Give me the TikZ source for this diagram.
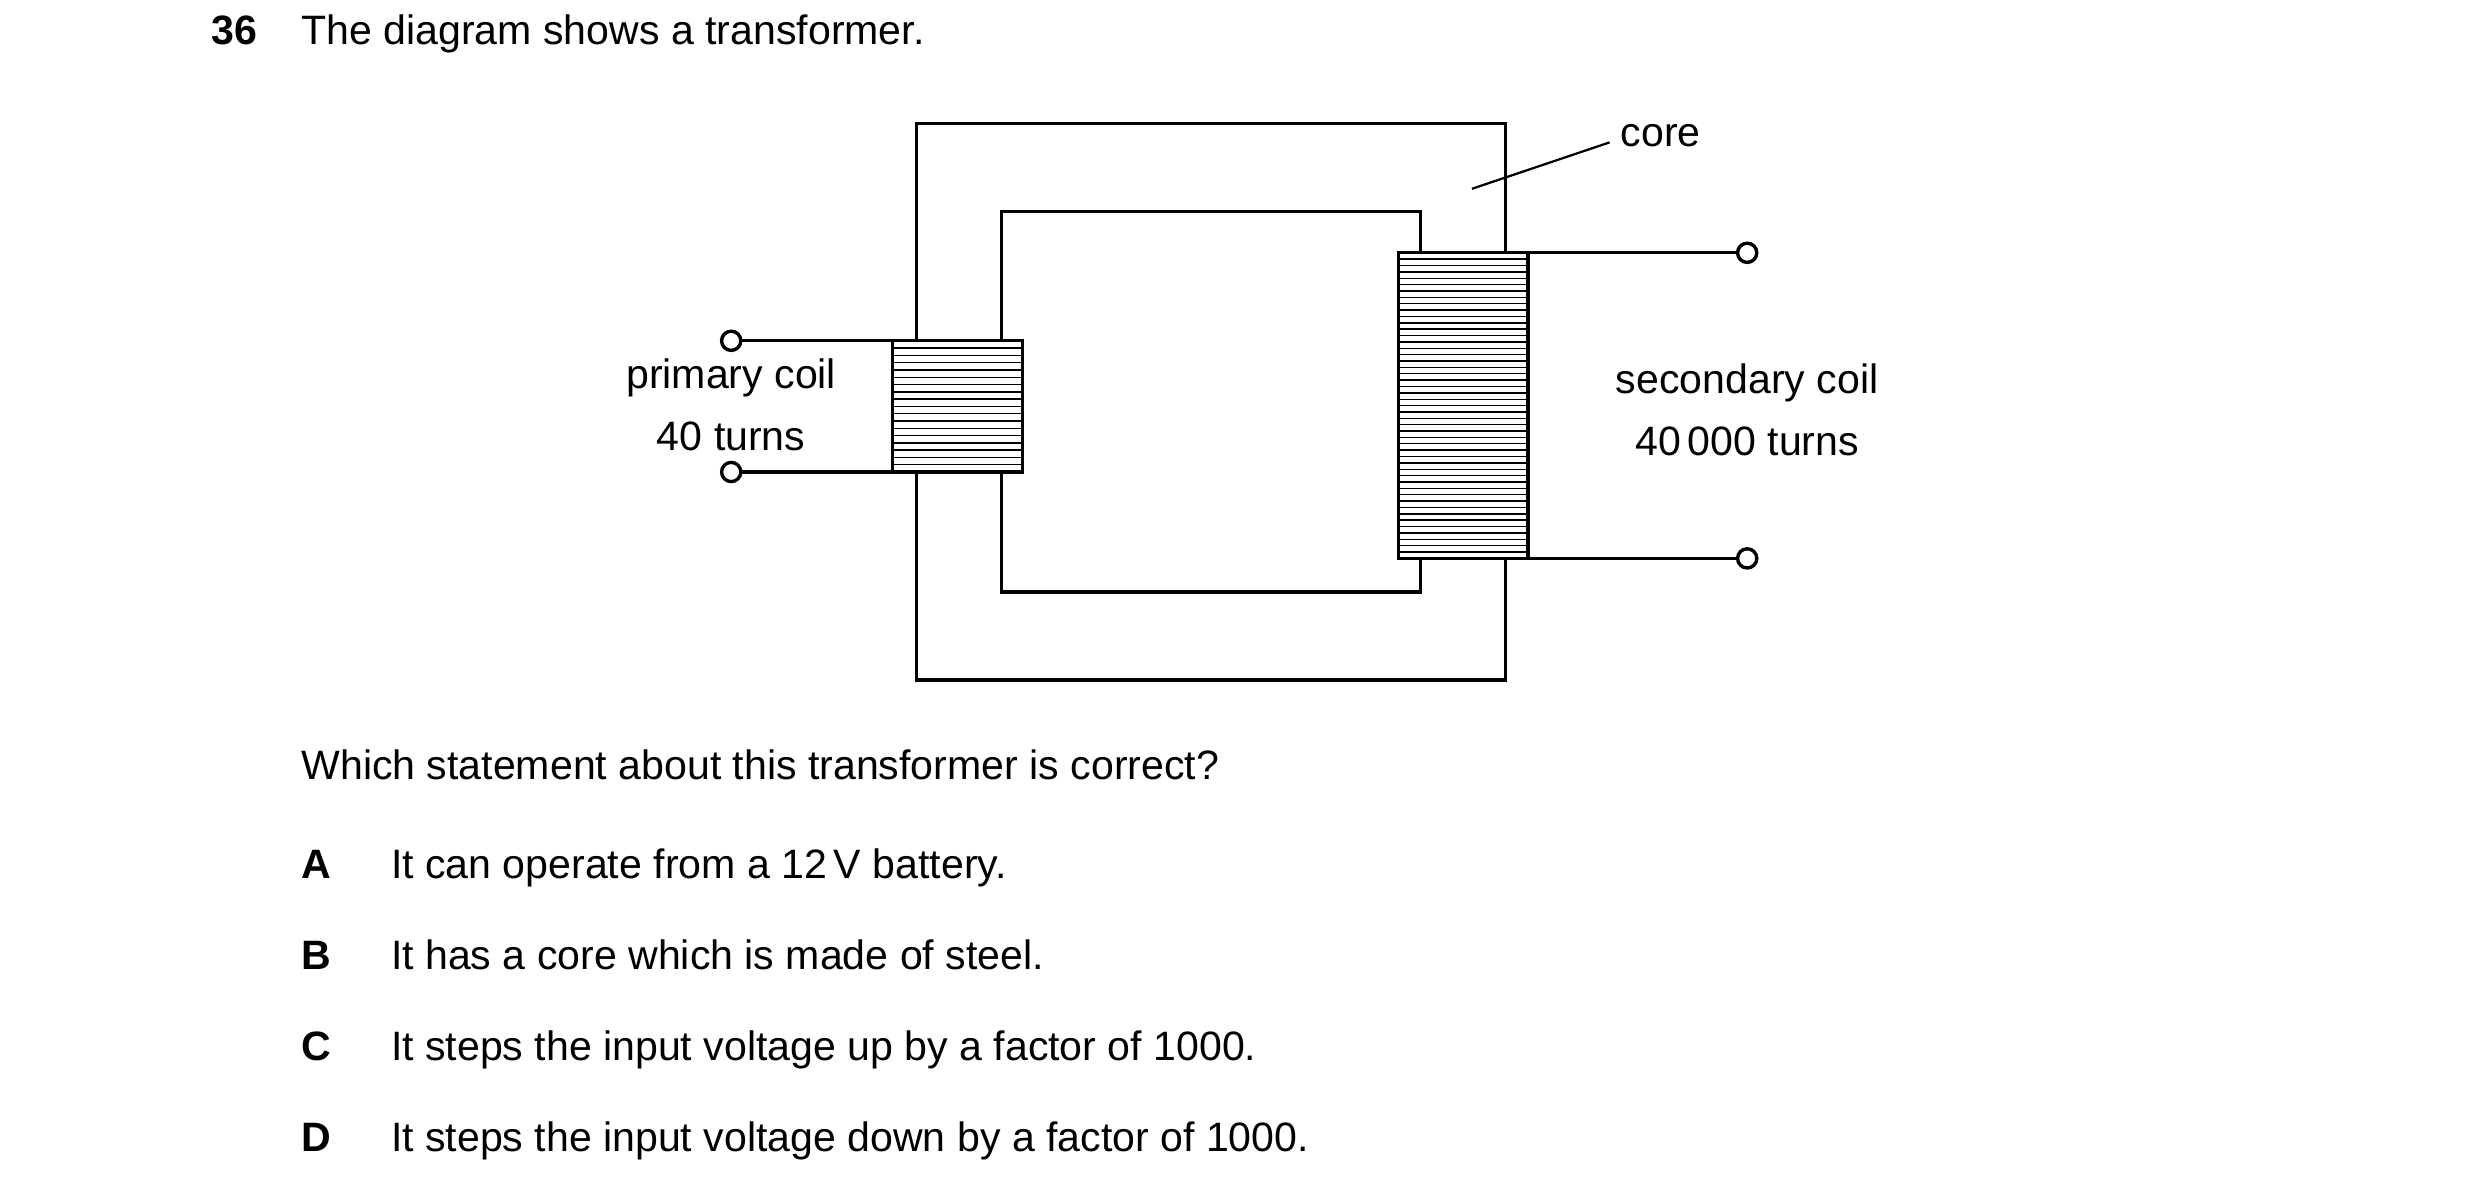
\documentclass[tikz,border=0pt]{standalone}
\usepackage{fontspec}
\setmainfont{Liberation Sans}
\usetikzlibrary{positioning}
\begin{document}
\begin{tikzpicture}[x=0.01cm,y=-0.01cm,thick,font=\fontsize{7.3}{9}\selectfont]
    \tikzstyle{line}=[line width=0.6pt]
    \tikzstyle{terminal}=[circle, draw, line width=0.6pt, fill=white, inner sep=0pt, minimum size=0.12cm]
    \tikzstyle{txt}=[inner sep=0pt, anchor=base west]
    \useasboundingbox (0,0) rectangle (1550,743);

    % core
    \draw[line] (573,77) rectangle (941,425);
    \draw[line] (626,132) rectangle (888,370);
    \draw[line,thin] (920,118) -- (1006,89);
    \node (core) [anchor=west, inner sep=1pt] at (1008,85) {core};

    % primary coil
    \draw[line,fill=white] (558,213) rectangle (639,295);
    \foreach \i in {1,...,17}
        \draw[line width=0.25pt] (558,{213+\i*82/18}) -- (639,{213+\i*82/18});
    \node[terminal] (p1) at (457,213) {};
    \node[terminal] (p2) at (457,295) {};
    \coordinate (pa) at (558,213);
    \coordinate (pb) at (558,295);
    \draw[line] (p1) -- (pa);
    \draw[line] (p2) -- (pb);
    \node[align=center, inner sep=0pt] (plabel) at (457,253) {primary coil\\[2pt]40 turns};

    % secondary coil
    \draw[line,fill=white] (874,158) rectangle (955,349);
    \foreach \i in {1,...,47}
        \draw[line width=0.25pt] (874,{158+\i*191/48}) -- (955,{158+\i*191/48});
    \node[terminal] (s1) at (1092,158) {};
    \node[terminal] (s2) at (1092,349) {};
    \coordinate (sa) at (955,158);
    \coordinate (sb) at (955,349);
    \draw[line] (sa) -- (s1);
    \draw[line] (sb) -- (s2);
    \node[align=center, inner sep=0pt] (slabel) at (1092,256) {secondary coil\\[2pt]40\,000 turns};

    % question
    \node[txt] (num) at (131,28) {\textbf{36}};
    \node[txt] (title) at (187,28) {The diagram shows a transformer.};
    \node[txt] (ask) at (187,487) {Which statement about this transformer is correct?};
    \foreach \l/\t [count=\k from 0] in {A/It can operate from a 12\,V battery.,
        B/It has a core which is made of steel.,
        C/It steps the input voltage up by a factor of 1000.,
        D/It steps the input voltage down by a factor of 1000.}
    {
        \node[txt] (opt\l) at (187,{549+\k*57}) {\textbf{\l}};
        \node[txt] (text\l) at (243,{549+\k*57}) {\t};
    }
\end{tikzpicture}
\end{document}
